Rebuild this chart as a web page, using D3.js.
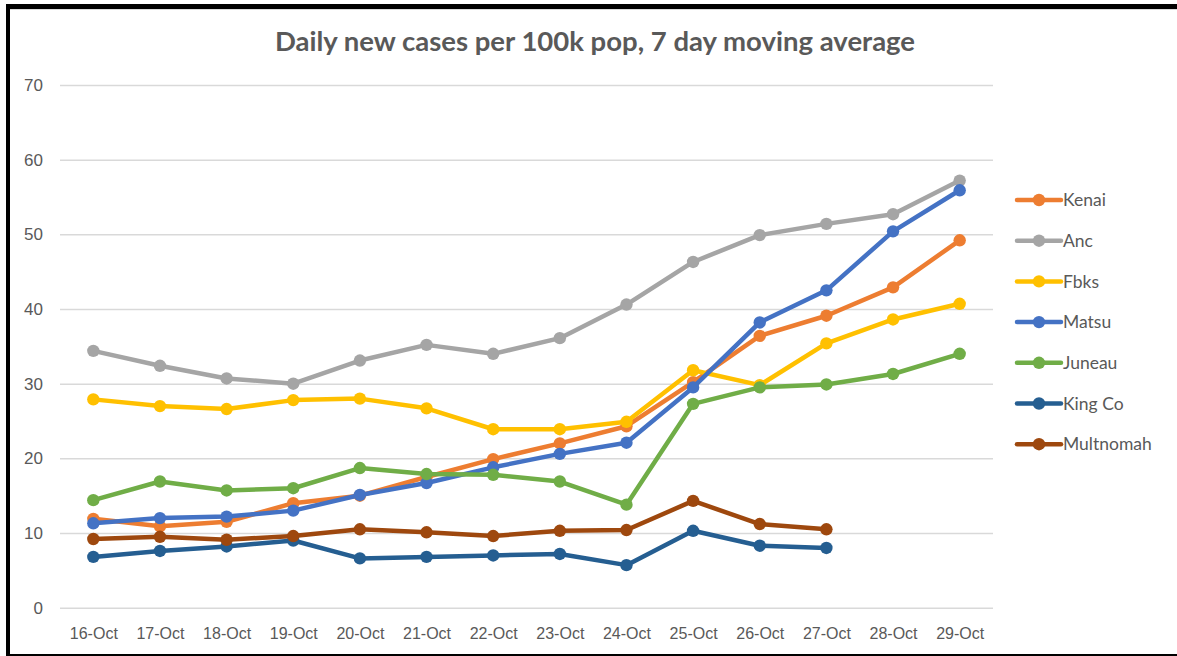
<!DOCTYPE html>
<html>
<head>
<meta charset="utf-8">
<script src="https://cdn.jsdelivr.net/npm/d3@7"></script>
<style>
  html, body { margin: 0; padding: 0; background: #fff; }
  svg { display: block; font-family: Lato, "Open Sans", sans-serif; }
  .axis text { fill: #595959; font-size: 16px; }
  .axis.y text { font-size: 17px; }
  .axis line { stroke: #d9d9d9; stroke-width: 1.5; }
</style>
</head>
<body>
<svg id="chart" width="1177" height="656"></svg>
<script>
/* Daily new cases per 100k, 7 day moving average — line chart with markers */
const days = ['16-Oct', '17-Oct', '18-Oct', '19-Oct', '20-Oct', '21-Oct', '22-Oct', '23-Oct', '24-Oct', '25-Oct', '26-Oct', '27-Oct', '28-Oct', '29-Oct'];
const yTicks = [0, 10, 20, 30, 40, 50, 60, 70];

const kenai     = [11.9, 10.9, 11.5, 14.0, 15.0, 17.5, 19.9, 22.0, 24.3, 30.2, 36.4, 39.1, 42.9, 49.2];
const anc       = [34.4, 32.4, 30.7, 30.0, 33.1, 35.2, 34.0, 36.1, 40.6, 46.3, 49.9, 51.4, 52.7, 57.2];
const fbks      = [27.9, 27.0, 26.6, 27.8, 28.0, 26.7, 23.9, 23.9, 24.9, 31.8, 29.8, 35.4, 38.6, 40.7];
const matsu     = [11.3, 12.0, 12.2, 13.0, 15.1, 16.7, 18.8, 20.6, 22.1, 29.5, 38.2, 42.5, 50.4, 55.9];
const juneau    = [14.4, 16.9, 15.7, 16.0, 18.7, 17.9, 17.8, 16.9, 13.8, 27.3, 29.5, 29.9, 31.3, 34.0];
const kingCo    = [6.8, 7.6, 8.2, 9.0, 6.6, 6.8, 7.0, 7.2, 5.7, 10.3, 8.3, 8.0];
const multnomah = [9.2, 9.5, 9.1, 9.6, 10.5, 10.1, 9.6, 10.3, 10.4, 14.3, 11.2, 10.5];

const seriesNames = ['Kenai', 'Anc', 'Fbks', 'Matsu', 'Juneau', 'King Co', 'Multnomah'];
const seriesValues = [kenai, anc, fbks, matsu, juneau, kingCo, multnomah];
const seriesColors = ['#ed7d31', '#a5a5a5', '#ffc000', '#4472c4', '#70ad47', '#255e91', '#9e480e'];

(function () {
  const series = seriesNames.map((name, i) => ({
    name, color: seriesColors[i],
    values: seriesValues[i].map((v, j) => ({ day: days[j], v }))
  }));

  const svg = d3.select('#chart');

  // outer frame (screenshot border)
  svg.append('rect').attr('x', 6).attr('y', 4).attr('width', 1171).attr('height', 5).attr('fill', '#000');
  svg.append('rect').attr('x', 6).attr('y', 4).attr('width', 4).attr('height', 652).attr('fill', '#000');
  svg.append('rect').attr('x', 6).attr('y', 654).attr('width', 1171).attr('height', 2).attr('fill', '#000');
  svg.append('line').attr('x1', 10).attr('x2', 1177).attr('y1', 9.5).attr('y2', 9.5).attr('stroke', '#d9d9d9').attr('stroke-width', 1);

  const pLeft = 60, pRight = 993, pTop = 85, pBottom = 607.7;
  const x = d3.scalePoint().domain(days).range([pLeft, pRight]).padding(0.5);
  const y = d3.scaleLinear().domain([0, 70]).range([pBottom, pTop]);

  // y axis + gridlines
  svg.append('g').attr('class', 'axis y').attr('transform', `translate(${pLeft},0)`)
    .call(d3.axisLeft(y).tickValues(yTicks).tickSize(-(pRight - pLeft)).tickPadding(17))
    .call(s => s.select('.domain').remove());

  // x axis labels
  svg.append('g').attr('class', 'axis').attr('transform', `translate(0,${pBottom})`)
    .call(d3.axisBottom(x).tickSize(0).tickPadding(20))
    .call(s => s.select('.domain').remove());

  // title
  svg.append('text').attr('x', 595).attr('y', 51).attr('text-anchor', 'middle')
    .attr('fill', '#595959').attr('font-size', 27.5).attr('font-weight', 'bold')
    .text('Daily new cases per 100k pop, 7 day moving average');

  const line = d3.line().x(d => x(d.day)).y(d => y(d.v));

  series.forEach(s => {
    const g = svg.append('g');
    g.append('path').datum(s.values).attr('d', line)
      .attr('fill', 'none').attr('stroke', s.color).attr('stroke-width', 4.5)
      .attr('stroke-linejoin', 'round').attr('stroke-linecap', 'round');
    g.selectAll('circle').data(s.values).enter().append('circle')
      .attr('cx', d => x(d.day)).attr('cy', d => y(d.v)).attr('r', 6.2)
      .attr('fill', s.color);
  });

  // legend
  const legend = svg.append('g').attr('transform', 'translate(1017,200)');
  series.forEach((s, i) => {
    const row = legend.append('g').attr('transform', `translate(0,${i * 40.7})`);
    row.append('line').attr('x1', 0).attr('x2', 44).attr('y1', 0).attr('y2', 0)
      .attr('stroke', s.color).attr('stroke-width', 4.5).attr('stroke-linecap', 'round');
    row.append('circle').attr('cx', 22).attr('cy', 0).attr('r', 6.2).attr('fill', s.color);
    row.append('text').attr('x', 46).attr('y', 0).attr('dy', '0.35em')
      .attr('fill', '#595959').attr('font-size', 17.5).text(s.name);
  });
})();
</script>
</body>
</html>
